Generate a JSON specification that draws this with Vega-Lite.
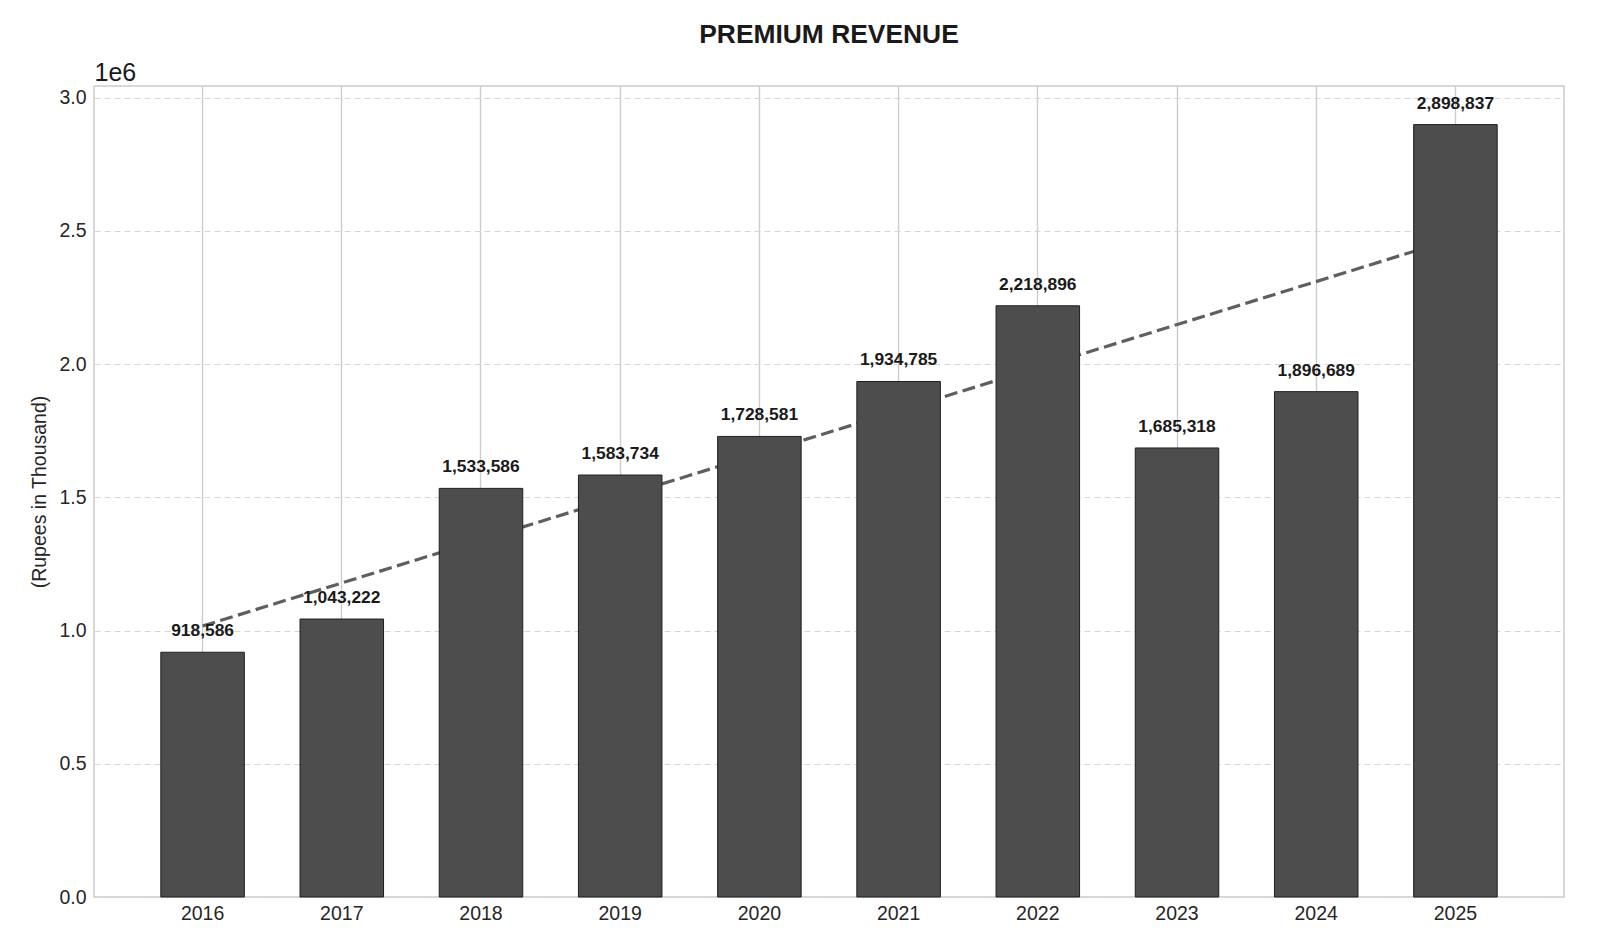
{
  "$schema": "https://vega.github.io/schema/vega-lite/v6.json",
  "width": 1470,
  "height": 811,
  "autosize": {"type": "none"},
  "padding": {"left": 94, "top": 86, "right": 36, "bottom": 36},
  "background": "white",
  "title": {"text": "PREMIUM REVENUE", "fontSize": 26.4, "fontWeight": "bold", "font": "Liberation Sans", "color": "#1a1a1a", "anchor": "middle", "frame": "group", "offset": 12},
  "config": {"view": {"stroke": "#cccccc", "strokeWidth": 1.5}, "font": "Liberation Sans"},
  "datasets": {
    "revenue": [
      {"year": 2016, "value": 918586},
      {"year": 2017, "value": 1043222},
      {"year": 2018, "value": 1533586},
      {"year": 2019, "value": 1583734},
      {"year": 2020, "value": 1728581},
      {"year": 2021, "value": 1934785},
      {"year": 2022, "value": 2218896},
      {"year": 2023, "value": 1685318},
      {"year": 2024, "value": 1896689},
      {"year": 2025, "value": 2898837}
    ],
    "trend": [
      {"year": 2016, "value": 1016945},
      {"year": 2025, "value": 2471502}
    ]
  },
  "encoding": {
    "x": {"field": "year", "type": "ordinal", "scale": {"paddingInner": 0.4, "paddingOuter": 0.48},
      "axis": {"orient": "bottom", "title": null, "labelAngle": 0, "labelFontSize": 19.5, "labelColor": "#262626", "labelPadding": 7, "ticks": false, "domain": false, "grid": true, "gridColor": "#cccccc", "gridWidth": 1.4, "bandPosition": 0.5}},
    "y": {"field": "value", "type": "quantitative", "scale": {"domain": [0, 3043779], "nice": false, "zero": true},
      "axis": {"orient": "left", "values": [0, 500000, 1000000, 1500000, 2000000, 2500000, 3000000], "labelExpr": "format(datum.value / 1000000, '.1f')", "labelFontSize": 19.5, "labelColor": "#262626", "labelPadding": 8, "ticks": false, "domain": false, "grid": true, "gridDash": [6, 4], "gridColor": "#d6d6d6", "gridWidth": 1.2, "title": "(Rupees in Thousand)", "titleFontSize": 19.5, "titleFontWeight": "normal", "titleColor": "#262626", "titlePadding": 9}}
  },
  "layer": [
    {
      "data": {"name": "trend"},
      "mark": {"type": "line", "color": "#5f5f5f", "strokeWidth": 3.2, "strokeDash": [13, 5.5]},
      "encoding": {
        "x": {"field": "year", "type": "ordinal", "scale": {"paddingInner": 0.4, "paddingOuter": 0.48},
          "axis": {"orient": "top", "labels": false, "ticks": false, "domain": false, "grid": false, "title": "1e6", "titleAnchor": "start", "titleAlign": "left", "titleBaseline": "alphabetic", "titleFontSize": 25, "titleFontWeight": "normal", "titlePadding": 6, "titleColor": "#1a1a1a"}}
      }
    },
    {
      "data": {"name": "revenue"},
      "mark": {"type": "bar", "color": "#4d4d4d", "stroke": "#1f1f1f", "strokeWidth": 1}
    },
    {
      "data": {"name": "revenue"},
      "mark": {"type": "text", "fontSize": 17.4, "fontWeight": "bold", "color": "#1a1a1a", "baseline": "alphabetic", "dy": -16},
      "encoding": {
        "x": {"field": "year", "type": "ordinal", "scale": {"paddingInner": 0.4, "paddingOuter": 0.48}, "axis": null},
        "text": {"field": "value", "type": "quantitative", "format": ","}
      }
    }
  ]
}
